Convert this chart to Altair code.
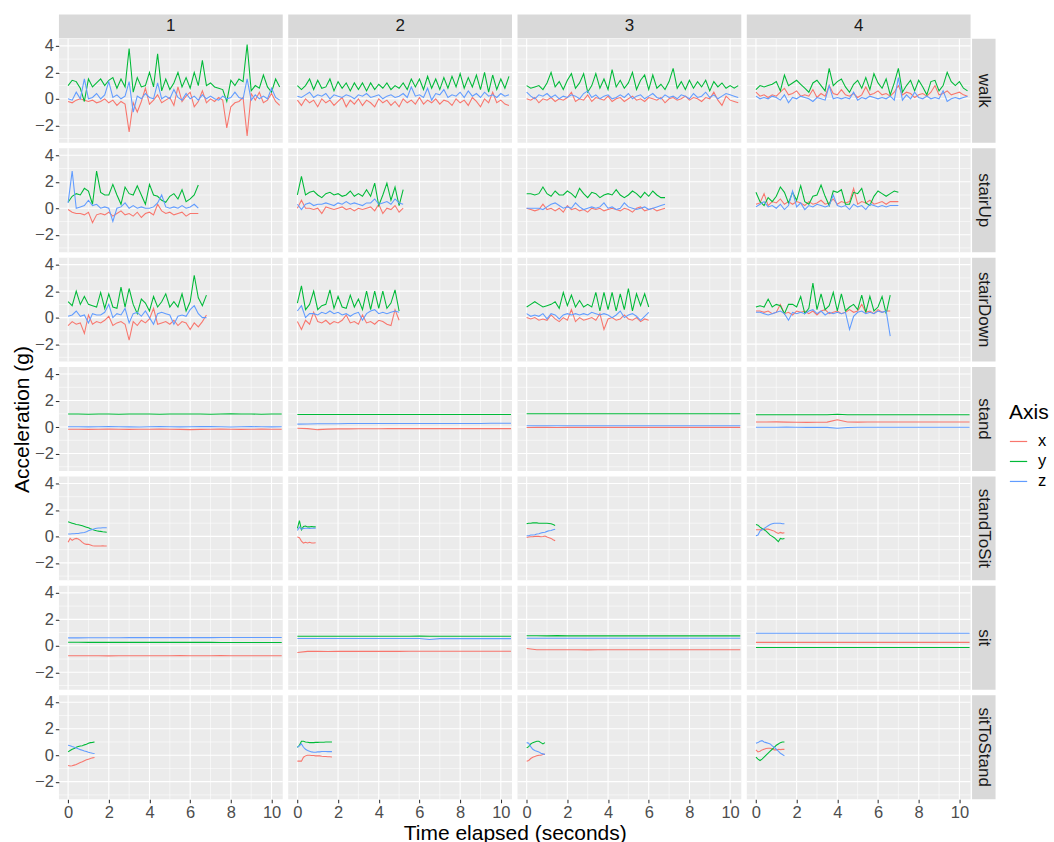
import altair as alt
import pandas as pd

FONT = "Liberation Sans"
AXES = ["x", "y", "z"]
COLORS = ["#F8766D", "#00BA38", "#619CFF"]
ACTIVITIES = ["walk", "stairUp", "stairDown", "stand", "standToSit", "sit", "sitToStand"]
SUBJECTS = ["1", "2", "3", "4"]
STEP = {"walk": 0.2, "stairUp": 0.2, "stairDown": 0.2, "stand": 0.5,
        "standToSit": 0.1, "sit": 0.5, "sitToStand": 0.1}

X_MAJOR = [0, 2, 4, 6, 8, 10]
X_MINOR = [1, 3, 5, 7, 9]
Y_MAJOR = [-2, 0, 2, 4]
Y_MINOR = [-3, -1, 1, 3]

# ---------------- walk ----------------
walk_1_x = [-0.2, -0.3, -0.1, 0.0, -0.1, -0.2, -0.1, -0.3, -0.2, 0.0, -0.3, -0.1, -0.5, -0.2, -0.4, -2.5, -0.3, -1.0, -0.2, 0.8,
            -0.4, -0.1, 0.3, -0.3, -0.1, 0.1, -0.5, 0.9, -0.2, 0.2, 0.5, -0.6, -0.2, 0.6, -0.3, 0.0, -0.2, 0.1, -0.1, -2.2,
            -0.6, -0.3, -0.2, 0.1, -2.8, 0.4, -0.1, 0.5, -0.3, -0.1, 0.4, -0.2, -0.5]
walk_1_y = [1.0, 1.4, 1.3, 0.8, -0.2, 1.5, 0.9, 1.2, 1.5, 1.0, 1.4, 1.6, 0.8, 1.5, 0.9, 3.8, 0.5, 1.6, 0.9, 1.0,
            2.0, 0.9, 3.4, 0.6, 1.5, 0.7, 1.2, 2.0, 0.9, 1.6, 0.8, 2.0, 1.0, 2.9, 1.0, 1.2, 0.9, 0.8, 0.7, -0.2,
            1.4, 1.0, 1.5, 1.3, 4.1, 0.6, 1.0, 0.8, 1.8, 0.9, 0.5, 1.5, 0.9]
walk_1_z = [0.0, -0.1, 0.5, 0.0, 1.5, 0.0, 0.1, 0.4, 0.0, 0.3, 1.3, 0.1, 0.3, 0.0, 0.2, 1.3, -1.0, 0.2, 0.0, 0.4,
            0.1, 0.0, 1.2, 0.0, 0.2, 0.0, 0.7, 0.1, -0.1, 0.4, 0.0, 0.2, -0.1, 0.3, 0.0, 0.2, 0.0, -0.1, 0.2, 0.0,
            0.1, 0.5, 0.1, 0.0, 1.5, -0.1, 0.3, 0.0, 0.2, 0.0, 0.8, 0.1, -0.1]
walk_2_x = [-0.1, -0.5, 0.0, -0.3, -0.1, -0.6, 0.0, -0.3, -0.1, -0.5, -0.2, 0.1, -0.6, -0.1, -0.4, 0.0, -0.5, -0.1, -0.3, -0.6,
            0.0, -0.3, -0.1, -0.5, -0.2, -0.6, 0.0, -0.3, -0.1, -0.4, 0.1, -0.4, -0.1, -0.3, 0.0, -0.4, -0.1, -0.2, -0.5, 0.0,
            -0.3, -0.1, -0.5, 0.1, -0.2, -0.6, 0.0, -0.3, 0.5, -0.3, -0.1, -0.4, -0.5]
walk_2_y = [1.0, 0.7, 1.0, 1.5, 0.7, 1.4, 0.8, 0.9, 1.5, 0.6, 1.3, 0.8, 1.2, 0.6, 1.2, 0.7, 1.2, 0.6, 1.2, 0.7,
            1.1, 0.8, 1.2, 0.7, 1.0, 0.8, 1.2, 0.7, 1.5, 0.9, 1.5, 0.7, 1.7, 0.8, 1.5, 0.7, 1.6, 0.8, 1.7, 0.9,
            1.9, 0.8, 1.6, 0.9, 1.8, 0.7, 2.0, 0.5, 1.8, 0.7, 1.5, 0.8, 1.7]
walk_2_z = [0.2, 0.1, 0.3, 0.5, 0.1, 0.3, 0.2, 0.4, 0.0, 0.3, 0.2, 0.1, 0.3, 0.2, 0.0, 0.3, 0.2, 0.4, 0.1, 0.2,
            0.3, 0.0, 0.2, 0.3, 0.1, 0.2, 0.4, 0.1, 0.9, 0.2, 0.3, 0.1, 0.8, -0.1, 0.4, 0.3, 0.7, 0.1, 0.3, 0.2,
            0.5, 0.1, 0.6, 0.2, 0.4, 0.1, 0.5, 0.2, 0.3, 0.1, 0.4, 0.2, 0.3]
walk_3_x = [0.0, -0.1, 0.1, -0.3, 0.0, -0.1, 0.1, -0.2, 0.0, -0.1, 0.1, 0.5, -0.2, 0.0, -0.1, 0.3, -0.2, 0.1, 0.0, -0.1,
            0.2, -0.2, 0.0, 0.1, -0.2, 0.0, 0.2, -0.1, 0.0, -0.2, 0.1, 0.0, -0.1, 0.1, -0.3, 0.0, 0.1, -0.1, 0.0, 0.2,
            -0.1, 0.1, 0.0, -0.2, 0.1, 0.0, 0.5, -0.1, -0.5, 0.2, -0.1, -0.2, -0.3]
walk_3_y = [1.0, 0.8, 0.9, 1.0, 0.7, 1.2, 2.0, 0.9, 1.3, 0.7, 1.4, 1.9, 0.8, 1.2, 1.9, 0.5, 1.0, 1.9, 0.8, 1.5,
            0.7, 2.2, 0.9, 1.4, 0.8, 1.2, 2.0, 0.7, 1.4, 1.8, 0.7, 1.8, 0.8, 1.1, 0.7, 1.3, 2.3, 0.8, 1.3, 0.7,
            1.4, 0.8, 1.3, 0.9, 1.4, 0.6, 1.3, 0.9, 1.2, 0.8, 1.0, 0.8, 1.0]
walk_3_z = [0.5, 0.2, 0.0, 0.3, 0.2, 0.4, 0.1, 0.3, 0.0, 0.2, 0.1, 0.3, 0.2, 0.0, 0.4, 0.6, 0.1, 0.3, 0.0, 0.2,
            0.3, 0.0, 0.1, 0.3, 0.1, 0.4, 0.0, 0.2, 0.3, 0.0, 0.2, 0.4, 0.1, 0.0, 0.3, 0.1, 0.2, 0.0, 0.3, 0.2,
            0.0, 0.4, 0.1, 0.2, 0.5, 0.1, 0.3, 0.0, 0.2, 0.4, 0.3, 0.2, 0.1]
walk_4_x = [0.5, 0.2, 0.3, 0.1, 0.3, 0.2, 0.5, 0.8, 0.3, 0.4, 0.6, 0.2, 0.3, 0.2, 0.7, 0.1, 0.4, 0.2, 1.0, 0.4,
            0.3, 0.7, 0.3, 0.2, 0.4, 0.1, 0.3, 0.9, 0.3, 0.4, 0.6, 0.3, 0.4, 0.2, 0.5, 1.0, 0.3, 0.5, 0.4, 0.1,
            0.3, 0.4, 0.2, 0.5, 1.0, 0.3, 0.4, 0.6, 0.3, 0.4, 0.5, 0.3, 0.2]
walk_4_y = [0.7, 1.0, 0.9, 1.0, 1.1, 1.3, 0.6, 1.8, 1.0, 1.2, 1.4, 1.1, 0.8, 0.5, 1.2, 1.4, 1.0, 0.6, 2.3, 1.0,
            1.3, 1.5, 0.9, 0.5, 1.1, 1.4, 0.8, 1.6, 0.7, 1.9, 1.2, 0.8, 1.5, 0.3, 1.2, 2.3, 0.5, 1.0, 1.4, 0.6,
            1.4, 0.9, 0.3, 1.3, 1.4, 0.6, 1.0, 2.0, 1.3, 1.0, 1.3, 0.8, 0.6]
walk_4_z = [0.2, 0.0, 0.1, 0.0, 0.2, 0.1, -0.1, 0.3, -0.3, 0.1, 0.0, 0.2, 0.1, 0.0, -0.2, 0.1, 0.0, -0.1, 1.0, 0.0,
            0.1, 0.0, 0.1, 0.0, 0.5, -0.1, 0.1, 0.0, 0.2, 0.1, 0.0, 0.1, 0.0, 0.2, -0.1, 1.6, -0.1, 0.3, 0.0, 0.5,
            0.1, 0.0, 0.2, 0.0, 0.1, 0.0, 0.6, -0.2, 0.0, 0.1, 0.0, 0.1, 0.2]

# ---------------- stairUp ----------------
up_1_x = [-0.1, -0.3, -0.4, -0.4, -0.5, -0.3, -1.1, -0.5, -0.4, -0.5, -0.3, -0.6, -0.4, -0.2, -0.5, -0.4, -0.6,
          -0.3, -0.7, -0.4, -0.3, -0.5, 0.3, -0.2, -0.4, -0.3, -0.5, -0.4, -0.3, -0.6, -0.4, -0.4, -0.4]
up_1_y = [0.45, 0.9, 1.1, 1.0, 1.5, 1.3, 0.3, 2.8, 1.2, 1.0, 1.0, 1.8, 1.0, 0.3, 1.6, 1.1, 1.0, 1.7, 1.0, 0.3,
          1.8, 1.0, 0.9, 0.6, 0.45, 0.9, 1.1, 0.7, 1.4, 0.5, 0.7, 1.0, 1.75]
up_1_z = [0.4, 2.8, 0.0, 0.1, 0.2, 0.6, 0.2, 0.3, 0.0, 0.1, 0.0, -1.0, 0.0, 0.1, 0.4, 0.0, 0.2, 0.0, 0.1, 0.0,
          0.0, 0.1, 0.4, 1.0, 0.1, 0.0, 0.1, 0.0, 0.2, 0.0, 0.1, 0.3, 0.0]
up_2_x = [0.0, 0.6, 0.0, 0.0, -0.1, 0.0, -0.4, 0.1, 0.0, -0.1, 0.0, 0.1, -0.1, 0.0, -0.2, 0.0, -0.1, 0.0, 0.1, -0.2,
          0.3, -0.4, 0.0, -0.1, 0.2, -0.3, 0.0]
up_2_y = [1.0, 2.4, 1.0, 1.2, 1.3, 1.0, 0.8, 1.1, 1.2, 1.0, 1.1, 0.9, 1.0, 1.3, 0.9, 1.1, 0.9, 1.4, 0.9, 1.9,
          0.2, 1.0, 1.9, 0.6, 1.6, 0.2, 1.4]
up_2_z = [0.3, -0.1, 0.3, 0.4, 0.2, 0.3, 0.3, 0.4, 0.3, 0.2, 0.4, 0.3, 0.5, 0.3, 0.4, 0.3, 0.2, 0.4, 0.4, 0.7,
          0.3, 0.4, 0.5, 0.3, 0.7, 0.4, 0.3]
up_3_x = [0.0, -0.1, -0.2, -0.1, 0.3, -0.1, 0.0, -0.2, 0.0, -0.3, 0.2, -0.1, 0.0, -0.2, -0.1, -0.3, 0.0, -0.1, 0.0,
          -0.2, -0.1, 0.0, -0.1, -0.2, 0.0, -0.1, -0.3, 0.0, 0.1, -0.2, -0.1, 0.0, -0.2, -0.1, 0.0]
up_3_y = [1.1, 1.1, 1.0, 1.1, 1.6, 1.1, 0.9, 1.3, 1.0, 1.0, 1.3, 1.1, 0.8, 1.5, 1.1, 0.8, 1.2, 1.1, 0.8, 1.0,
          1.1, 1.0, 1.4, 1.0, 0.8, 1.0, 1.3, 1.1, 0.8, 1.2, 0.9, 1.3, 1.0, 0.8, 0.8]
up_3_z = [0.0, 0.0, 0.0, 0.0, -0.1, 0.1, 0.3, 0.4, 0.2, 0.0, 0.1, 0.0, 0.4, 0.1, -0.1, 0.0, 0.1, 0.0, 0.1, 0.4,
          0.0, 0.1, -0.1, 0.0, 0.4, 0.1, 0.0, -0.1, 0.0, 0.1, -0.1, 0.0, 0.1, 0.2, 0.3]
up_4_x = [0.3, 0.4, 1.1, 0.2, 0.5, 0.4, 0.7, 0.3, 0.5, 0.3, 0.5, 0.4, 0.2, 0.5, 0.3, 0.4, 0.6, 0.3, 0.4, 0.7,
          0.3, 0.5, 0.4, 0.5, 1.5, 0.3, 0.5, 0.4, 0.6, 0.3, 0.4, 0.5, 0.3, 0.5, 0.5, 0.5]
up_4_y = [1.2, 0.5, 0.2, 0.8, 0.5, 0.9, 1.6, 1.2, 0.4, 1.2, 0.6, 1.7, 0.5, 0.3, 0.9, 1.0, 1.75, 0.9, 0.2, 1.3,
          1.2, 1.4, 0.3, 0.3, 1.2, 1.1, 1.5, 0.4, 0.2, 0.9, 1.3, 1.1, 0.9, 1.1, 1.3, 1.2]
up_4_z = [0.1, 0.3, 0.5, 0.1, 0.2, 0.0, 0.3, -0.1, 0.2, 1.3, 0.1, 0.4, -0.1, 0.2, 0.1, 0.3, 0.2, 0.1, 0.2, 1.0,
          0.2, 0.1, 0.2, -0.1, 0.3, 0.1, 0.2, -0.1, 0.3, 0.2, 0.1, 0.2, 0.1, 0.2, 0.2, 0.2]

# ---------------- stairDown ----------------
down_1_x = [-0.6, -0.3, -0.5, -0.4, -1.2, 0.2, -0.5, -0.3, -0.4, -0.2, 0.1, -0.6, -0.4, -0.3, -0.5, -1.7, -0.3, -0.6,
            -0.2, -0.4, -0.1, 0.7, -0.5, -0.4, -0.3, -0.5, -0.2, -0.6, -0.3, -0.4, -0.9, -0.4, -0.7, -0.3, 0.2]
down_1_y = [1.2, 0.9, 2.0, 1.0, 1.6, 1.0, 0.9, 0.8, 1.9, 0.7, 1.8, 0.8, 0.7, 2.3, 0.8, 2.2, 1.0, 0.3, 1.4, 1.1,
            0.5, 1.6, 0.8, 1.2, 1.8, 0.8, 1.2, 0.8, 1.8, 0.5, 1.2, 3.2, 1.5, 0.9, 1.7]
down_1_z = [0.1, 0.2, 0.5, 0.1, 0.2, -0.4, 0.3, 0.2, 0.2, 0.4, 1.0, 0.0, 0.3, 0.2, 0.7, -0.4, 0.3, 0.4, 0.1, 0.5,
            0.0, -0.5, 0.3, 0.4, 0.3, 0.2, -0.5, 0.1, 0.2, 0.1, 0.6, 0.9, 0.3, 0.0, 0.0]
down_2_x = [-0.3, -0.9, -0.2, -0.5, 0.4, -0.3, -0.4, -0.2, -0.5, -0.3, -0.4, -0.2, 0.2, -0.4, -0.3, -0.5, 0.2, -0.4,
            -0.3, -0.5, -0.2, -0.3, -0.5, -0.6, 0.6, -0.2]
down_2_y = [1.1, 2.4, 0.6, 1.0, 2.0, 0.6, 0.9, 1.0, 2.1, 0.7, 1.6, 0.8, 0.7, 1.7, 0.8, 1.4, 0.6, 2.0, 0.6, 2.0,
            0.7, 2.0, 0.7, 1.1, 2.1, 0.5]
down_2_z = [0.5, 0.9, 0.0, 0.3, 0.3, 0.2, 0.4, 0.3, 0.5, 0.3, 0.4, 0.2, 0.3, 0.1, 0.3, 0.4, -0.2, 0.3, 0.5, 0.6,
            0.3, 0.4, 0.3, 0.4, 0.5, 0.4]
down_3_x = [0.0, -0.1, 0.0, -0.2, -0.1, -0.2, 0.2, -0.1, -0.3, 0.0, -0.2, 0.6, -0.3, 0.0, -0.2, -0.1, 0.0, -0.2, 0.3,
            -0.9, -0.1, 0.0, -0.2, -0.1, 0.2, -0.1, -0.2, 0.0, -0.3, -0.1, -0.2]
down_3_y = [0.8, 1.0, 1.2, 1.0, 0.8, 0.9, 1.0, 1.2, 0.7, 1.9, 0.9, 1.7, 0.8, 1.3, 0.8, 1.0, 0.8, 1.9, 0.5, 1.9,
            0.6, 1.9, 0.5, 1.8, 0.6, 2.2, 0.5, 1.8, 0.9, 1.8, 0.8]
down_3_z = [0.3, 0.1, 0.2, 0.1, 0.3, -0.1, 0.3, 0.2, -0.1, 0.2, 0.3, 0.2, 0.3, 0.2, 0.3, 0.2, 0.4, 0.3, 0.2, 0.3,
            0.2, 0.0, 0.2, 0.5, 0.0, 0.2, 0.3, 0.1, -0.2, 0.1, 0.4]
down_4_x = [0.5, 0.5, 0.4, 0.5, 0.3, 0.4, 1.0, 0.3, 0.4, 0.2, 0.5, 0.4, 0.5, 0.3, 0.5, 0.2, 0.5, 0.6, 0.3, 0.4,
            0.5, 0.3, 0.4, 0.6, 0.4, 0.5, 1.0, 0.4, 0.5, 0.3, 0.6, 0.4, 0.5, 0.5]
down_4_y = [0.8, 0.9, 0.8, 1.4, 0.8, 1.0, 0.9, 0.3, 1.0, 1.0, 0.8, 1.6, 0.3, 0.7, 2.6, 0.6, 1.8, 0.6, 0.9, 1.9,
            0.5, 1.8, 0.5, 0.8, 1.0, 0.6, 1.7, 0.4, 1.6, 0.5, 0.8, 1.6, 0.3, 1.7]
down_4_z = [0.4, 0.4, 0.3, 0.2, 0.3, 0.4, 0.5, 0.3, -0.2, 0.4, 0.3, 0.4, 0.3, 0.5, 0.6, 0.3, 0.5, 0.2, 0.4, 0.3,
            0.4, 0.3, 0.4, -0.9, 0.1, 0.4, 0.5, 0.3, 0.4, 0.3, 0.5, 0.4, 0.5, -1.4]

# ---------------- stand ----------------
stand_1_x = [-0.17, -0.17, -0.18, -0.17, -0.16, -0.17, -0.18, -0.17, -0.17, -0.16, -0.17, -0.18, -0.2, -0.18, -0.17,
             -0.16, -0.17, -0.18, -0.17, -0.16, -0.17, -0.17]
stand_1_y = [0.98, 0.98, 0.97, 0.98, 0.98, 0.97, 0.98, 0.98, 0.98, 0.97, 0.98, 0.98, 0.98, 0.98, 0.97, 0.98, 0.99,
             0.98, 0.98, 0.97, 0.98, 0.98]
stand_1_z = [0.02, 0.02, 0.01, 0.02, 0.03, 0.02, 0.01, 0.0, 0.02, 0.03, 0.02, 0.01, 0.02, 0.03, 0.04, 0.02, 0.0,
             0.02, 0.03, 0.02, 0.01, 0.02]
stand_2_x = [-0.1, -0.12, -0.2, -0.16, -0.14, -0.14, -0.13, -0.13, -0.13, -0.12, -0.12, -0.12, -0.12, -0.12, -0.12,
             -0.12, -0.12, -0.12, -0.12, -0.12, -0.12, -0.12]
stand_2_y = [0.95, 0.95, 0.95, 0.94, 0.95, 0.95, 0.95, 0.95, 0.95, 0.95, 0.95, 0.95, 0.95, 0.95, 0.95, 0.95, 0.95,
             0.95, 0.95, 0.95, 0.95, 0.95]
stand_2_z = [0.22, 0.23, 0.24, 0.25, 0.25, 0.26, 0.26, 0.26, 0.27, 0.27, 0.27, 0.27, 0.27, 0.27, 0.27, 0.27, 0.27,
             0.27, 0.27, 0.28, 0.28, 0.28]
stand_3_x = [-0.04, -0.03, -0.03, -0.04, -0.03, -0.03, -0.03, -0.02, -0.03, -0.03, -0.03, -0.03, -0.02, -0.03,
             -0.03, -0.03, -0.03, -0.02, -0.03, -0.03, -0.03, -0.03]
stand_3_y = [1.0, 1.0, 1.0, 1.0, 1.0, 1.0, 1.0, 1.0, 1.0, 1.0, 1.0, 1.0, 1.0, 1.0, 1.0, 1.0, 1.0, 1.0, 1.0, 1.0,
             1.0, 1.0]
stand_3_z = [0.1, 0.1, 0.1, 0.1, 0.1, 0.1, 0.1, 0.1, 0.1, 0.1, 0.1, 0.1, 0.1, 0.1, 0.1, 0.1, 0.1, 0.1, 0.1, 0.1,
             0.1, 0.1]
stand_4_x = [0.38, 0.38, 0.39, 0.37, 0.36, 0.35, 0.36, 0.37, 0.55, 0.38, 0.37, 0.38, 0.38, 0.38, 0.38, 0.38, 0.38,
             0.38, 0.38, 0.38, 0.38, 0.38]
stand_4_y = [0.92, 0.92, 0.92, 0.92, 0.92, 0.92, 0.92, 0.92, 0.96, 0.92, 0.92, 0.92, 0.92, 0.92, 0.92, 0.92, 0.92,
             0.92, 0.92, 0.92, 0.92, 0.92]
stand_4_z = [-0.02, -0.02, -0.02, -0.01, -0.02, -0.03, -0.02, -0.03, -0.1, -0.04, -0.02, -0.02, -0.02, -0.02,
             -0.02, -0.02, -0.02, -0.02, -0.02, -0.02, -0.02, -0.02]

# ---------------- sit ----------------
sit_1_x = [-0.75, -0.75, -0.75, -0.75, -0.76, -0.75, -0.75, -0.75, -0.75, -0.75, -0.75, -0.74, -0.75, -0.75, -0.75,
           -0.74, -0.75, -0.75, -0.75, -0.75, -0.75, -0.75]
sit_1_y = [0.27, 0.27, 0.26, 0.26, 0.26, 0.26, 0.26, 0.26, 0.26, 0.26, 0.26, 0.26, 0.26, 0.26, 0.26, 0.25, 0.25,
           0.25, 0.25, 0.25, 0.25, 0.25]
sit_1_z = [0.6, 0.6, 0.61, 0.61, 0.61, 0.61, 0.62, 0.62, 0.62, 0.62, 0.62, 0.62, 0.62, 0.62, 0.62, 0.63, 0.63,
           0.63, 0.63, 0.63, 0.63, 0.63]
sit_2_x = [-0.5, -0.42, -0.42, -0.43, -0.42, -0.42, -0.42, -0.41, -0.42, -0.41, -0.42, -0.41, -0.41, -0.41, -0.41,
           -0.41, -0.41, -0.41, -0.41, -0.41, -0.41, -0.41]
sit_2_y = [0.72, 0.72, 0.72, 0.72, 0.72, 0.72, 0.72, 0.72, 0.72, 0.72, 0.72, 0.72, 0.73, 0.72, 0.72, 0.72, 0.72,
           0.72, 0.72, 0.72, 0.72, 0.72]
sit_2_z = [0.55, 0.55, 0.55, 0.55, 0.55, 0.55, 0.55, 0.55, 0.55, 0.55, 0.55, 0.55, 0.55, 0.48, 0.54, 0.54, 0.54,
           0.54, 0.54, 0.54, 0.54, 0.54]
sit_3_x = [-0.2, -0.3, -0.3, -0.3, -0.3, -0.3, -0.31, -0.3, -0.3, -0.3, -0.3, -0.3, -0.3, -0.3, -0.3, -0.3, -0.3,
           -0.3, -0.3, -0.3, -0.3, -0.3]
sit_3_y = [0.76, 0.76, 0.75, 0.77, 0.75, 0.76, 0.75, 0.75, 0.75, 0.75, 0.75, 0.75, 0.75, 0.75, 0.75, 0.75, 0.75,
           0.75, 0.75, 0.75, 0.75, 0.75]
sit_3_z = [0.57, 0.57, 0.57, 0.57, 0.57, 0.57, 0.57, 0.57, 0.57, 0.57, 0.57, 0.57, 0.57, 0.57, 0.57, 0.57, 0.57,
           0.57, 0.57, 0.57, 0.57, 0.57]
sit_4_x = [0.26, 0.26, 0.26, 0.26, 0.26, 0.26, 0.26, 0.26, 0.26, 0.26, 0.26, 0.26, 0.26, 0.26, 0.26, 0.26, 0.26,
           0.26, 0.26, 0.26, 0.26, 0.26]
sit_4_y = [-0.13, -0.13, -0.13, -0.13, -0.13, -0.13, -0.13, -0.13, -0.13, -0.13, -0.13, -0.13, -0.13, -0.13, -0.13,
           -0.13, -0.13, -0.13, -0.13, -0.13, -0.13, -0.13]
sit_4_z = [0.95, 0.95, 0.95, 0.95, 0.95, 0.95, 0.95, 0.95, 0.95, 0.95, 0.95, 0.95, 0.95, 0.95, 0.95, 0.95, 0.95,
           0.95, 0.95, 0.95, 0.95, 0.95]

# ---------------- standToSit ----------------
s2s_1_x = [-0.45, -0.15, -0.3, -0.2, -0.15, -0.2, -0.3, -0.45, -0.55, -0.6, -0.6, -0.65, -0.7, -0.72, -0.72, -0.72,
           -0.72, -0.7, -0.72, -0.72]
s2s_1_y = [1.1, 1.05, 1.0, 0.95, 0.9, 0.88, 0.85, 0.8, 0.75, 0.7, 0.65, 0.58, 0.52, 0.47, 0.43, 0.4, 0.38, 0.35,
           0.33, 0.31]
s2s_1_z = [0.18, 0.18, 0.2, 0.2, 0.22, 0.22, 0.25, 0.28, 0.3, 0.35, 0.42, 0.48, 0.53, 0.58, 0.62, 0.63, 0.64, 0.65,
           0.65, 0.65]
s2s_2_x = [-0.05, -0.1, -0.35, -0.5, -0.45, -0.5, -0.45, -0.5, -0.5, -0.48]
s2s_2_y = [0.6, 1.2, 0.5, 0.75, 0.78, 0.72, 0.72, 0.75, 0.72, 0.72]
s2s_2_z = [0.45, 0.7, 0.55, 0.6, 0.62, 0.62, 0.6, 0.62, 0.62, 0.62]
s2s_3_x = [-0.08, -0.05, -0.02, -0.03, 0.0, 0.0, 0.0, -0.02, 0.0, 0.03, -0.05, -0.1, -0.15, -0.25, -0.33]
s2s_3_y = [0.95, 1.0, 1.0, 1.02, 1.02, 1.02, 1.0, 1.0, 1.0, 1.0, 1.0, 0.98, 0.95, 0.9, 0.83]
s2s_3_z = [0.05, 0.05, 0.1, 0.1, 0.12, 0.18, 0.2, 0.25, 0.3, 0.32, 0.38, 0.42, 0.45, 0.5, 0.54]
s2s_4_x = [0.5, 0.5, 0.5, 0.5, 0.52, 0.55, 0.55, 0.5, 0.45, 0.4, 0.3, 0.22, 0.3, 0.25, 0.28]
s2s_4_y = [0.9, 0.85, 0.7, 0.6, 0.5, 0.4, 0.25, 0.1, 0.0, -0.1, -0.25, -0.4, -0.15, -0.2, -0.15]
s2s_4_z = [0.05, 0.1, 0.4, 0.5, 0.6, 0.7, 0.8, 0.9, 0.95, 1.0, 1.0, 1.0, 1.0, 0.95, 0.95]

# ---------------- sitToStand ----------------
t2s_1_x = [-0.78, -0.82, -0.8, -0.75, -0.7, -0.62, -0.55, -0.5, -0.42, -0.35, -0.3, -0.25, -0.2, -0.18]
t2s_1_y = [0.25, 0.35, 0.45, 0.5, 0.6, 0.65, 0.7, 0.72, 0.78, 0.82, 0.9, 0.95, 0.97, 1.0]
t2s_1_z = [0.75, 0.72, 0.65, 0.6, 0.55, 0.48, 0.42, 0.38, 0.32, 0.28, 0.22, 0.18, 0.15, 0.13]
t2s_2_x = [-0.45, -0.45, -0.45, -0.15, -0.05, 0.0, 0.0, -0.02, -0.02, -0.05, -0.05, -0.05, -0.08, -0.1, -0.1, -0.12,
           -0.12, -0.13]
t2s_2_y = [0.6, 0.75, 1.05, 1.05, 1.0, 0.98, 0.95, 0.95, 0.95, 0.97, 0.97, 0.98, 0.98, 0.98, 1.0, 1.0, 1.0, 1.0]
t2s_2_z = [0.6, 0.7, 0.85, 0.6, 0.45, 0.35, 0.3, 0.25, 0.22, 0.22, 0.25, 0.25, 0.28, 0.28, 0.28, 0.27, 0.27, 0.27]
t2s_3_x = [-0.45, -0.4, -0.25, -0.15, -0.1, -0.05, 0.0, 0.0, 0.05, 0.08]
t2s_3_y = [0.55, 0.65, 0.85, 0.95, 1.0, 1.05, 1.05, 0.95, 0.85, 0.95]
t2s_3_z = [0.95, 0.9, 0.65, 0.45, 0.35, 0.3, 0.25, 0.15, 0.1, 0.05]
t2s_4_x = [0.4, 0.25, 0.3, 0.4, 0.45, 0.5, 0.52, 0.52, 0.48, 0.4, 0.4, 0.45, 0.42, 0.44, 0.44]
t2s_4_y = [-0.15, -0.3, -0.4, -0.3, -0.15, 0.0, 0.15, 0.3, 0.45, 0.6, 0.75, 0.85, 0.95, 1.0, 1.0]
t2s_4_z = [0.9, 0.95, 1.05, 1.1, 1.0, 0.95, 0.9, 0.85, 0.7, 0.6, 0.45, 0.3, 0.15, 0.05, -0.05]

SERIES = {
    "walk": {"1": (walk_1_x, walk_1_y, walk_1_z), "2": (walk_2_x, walk_2_y, walk_2_z),
             "3": (walk_3_x, walk_3_y, walk_3_z), "4": (walk_4_x, walk_4_y, walk_4_z)},
    "stairUp": {"1": (up_1_x, up_1_y, up_1_z), "2": (up_2_x, up_2_y, up_2_z),
                "3": (up_3_x, up_3_y, up_3_z), "4": (up_4_x, up_4_y, up_4_z)},
    "stairDown": {"1": (down_1_x, down_1_y, down_1_z), "2": (down_2_x, down_2_y, down_2_z),
                  "3": (down_3_x, down_3_y, down_3_z), "4": (down_4_x, down_4_y, down_4_z)},
    "stand": {"1": (stand_1_x, stand_1_y, stand_1_z), "2": (stand_2_x, stand_2_y, stand_2_z),
              "3": (stand_3_x, stand_3_y, stand_3_z), "4": (stand_4_x, stand_4_y, stand_4_z)},
    "standToSit": {"1": (s2s_1_x, s2s_1_y, s2s_1_z), "2": (s2s_2_x, s2s_2_y, s2s_2_z),
                   "3": (s2s_3_x, s2s_3_y, s2s_3_z), "4": (s2s_4_x, s2s_4_y, s2s_4_z)},
    "sit": {"1": (sit_1_x, sit_1_y, sit_1_z), "2": (sit_2_x, sit_2_y, sit_2_z),
            "3": (sit_3_x, sit_3_y, sit_3_z), "4": (sit_4_x, sit_4_y, sit_4_z)},
    "sitToStand": {"1": (t2s_1_x, t2s_1_y, t2s_1_z), "2": (t2s_2_x, t2s_2_y, t2s_2_z),
                   "3": (t2s_3_x, t2s_3_y, t2s_3_z), "4": (t2s_4_x, t2s_4_y, t2s_4_z)},
}

records = []
for act in ACTIVITIES:
    for s in SUBJECTS:
        for ax, vals in zip(AXES, SERIES[act][s]):
            for i, v in enumerate(vals):
                records.append({"activity": act, "subject": s, "axis": ax,
                                "t": round(i * STEP[act], 3), "value": v})
df = pd.DataFrame(records)

gx_major = pd.DataFrame({"v": X_MAJOR})
gx_minor = pd.DataFrame({"v": X_MINOR})
gy_major = pd.DataFrame({"v": Y_MAJOR})
gy_minor = pd.DataFrame({"v": Y_MINOR})

PW, PH = 224, 104
GAP = 5.5
SW = 18.5  # strip cell size (rect extends across the gap)
TICK_FS = 16.5
TITLE_FS = 21
STRIP_FS = 17

XS = alt.Scale(domain=[-0.45, 10.55], nice=False, zero=False)
YS = alt.Scale(domain=[-3.32, 4.53], nice=False, zero=False)

LEG = alt.Legend(title="Axis", orient="none", legendX=951, legendY=388,
                 symbolType="stroke", symbolSize=300, symbolStrokeWidth=1.2,
                 titleFontSize=TITLE_FS, titleFont=FONT, titleFontWeight="normal", titleColor="#000000",
                 labelFontSize=TICK_FS, labelFont=FONT, labelColor="#000000",
                 titlePadding=9, rowPadding=2, labelOffset=10)

TICK = dict(domain=False, grid=False, tickColor="#333333", tickSize=3.6, tickWidth=1.07,
            labelColor="#4D4D4D", labelFontSize=TICK_FS, labelFont=FONT, labelPadding=2)


def x_axis(show, title=False):
    if not show:
        return None
    if title:
        return alt.Axis(values=X_MAJOR, title="Time elapsed (seconds)", titleFontSize=TITLE_FS, titleFont=FONT,
                        titleFontWeight="normal", titleColor="#000000", titlePadding=1,
                        titleX=(4 * PW + 3 * GAP) / 2 - (PW + GAP), titleAlign="center", **TICK)
    return alt.Axis(values=X_MAJOR, title=None, **TICK)


def y_axis(show, title=False):
    if not show:
        return None
    if title:
        return alt.Axis(values=Y_MAJOR, title="Acceleration (g)", titleFontSize=TITLE_FS, titleFont=FONT,
                        titleFontWeight="normal", titleColor="#000000", titlePadding=2, **TICK)
    return alt.Axis(values=Y_MAJOR, title=None, **TICK)


def panel(act, subj, show_x, show_y, xt, yt):
    ax = x_axis(show_x, xt)
    ay = y_axis(show_y, yt)
    vmin = alt.Chart(gx_minor).mark_rule(color="white", strokeWidth=0.55).encode(
        x=alt.X("v:Q", scale=XS, axis=ax))
    vmaj = alt.Chart(gx_major).mark_rule(color="white", strokeWidth=1.1).encode(
        x=alt.X("v:Q", scale=XS, axis=ax))
    hmin = alt.Chart(gy_minor).mark_rule(color="white", strokeWidth=0.55).encode(
        y=alt.Y("v:Q", scale=YS, axis=ay))
    hmaj = alt.Chart(gy_major).mark_rule(color="white", strokeWidth=1.1).encode(
        y=alt.Y("v:Q", scale=YS, axis=ay))
    lines = alt.Chart(df).transform_filter(
        (alt.datum.activity == act) & (alt.datum.subject == subj)
    ).mark_line(strokeWidth=1.07, clip=True).encode(
        x=alt.X("t:Q", scale=XS, axis=ax),
        y=alt.Y("value:Q", scale=YS, axis=ay),
        color=alt.Color("axis:N", scale=alt.Scale(domain=AXES, range=COLORS), legend=LEG),
    )
    return alt.layer(vmin, vmaj, hmin, hmaj, lines).properties(
        width=PW, height=PH, view=alt.ViewBackground(fill="#EBEBEB"))


def top_strip(label):
    d = pd.DataFrame({"label": [label]})
    rect = alt.Chart(d).mark_rect(color="#D9D9D9").encode(
        x=alt.value(0), x2=alt.value(PW), y=alt.value(0), y2=alt.value(SW + GAP))
    txt = alt.Chart(d).mark_text(font=FONT, fontSize=STRIP_FS, color="#1A1A1A", baseline="middle",
                                 align="center").encode(
        text="label:N", x=alt.value(PW / 2), y=alt.value((SW + GAP) / 2))
    return alt.layer(rect, txt).properties(width=PW, height=SW)


def right_strip(label):
    d = pd.DataFrame({"label": [label]})
    x0 = -GAP + 1.5
    rect = alt.Chart(d).mark_rect(color="#D9D9D9").encode(
        x=alt.value(x0), x2=alt.value(SW + 1), y=alt.value(0), y2=alt.value(PH))
    txt = alt.Chart(d).mark_text(font=FONT, fontSize=STRIP_FS, color="#1A1A1A", baseline="middle",
                                 align="center", angle=90).encode(
        text="label:N", x=alt.value((x0 + SW + 1) / 2), y=alt.value(PH / 2))
    return alt.layer(rect, txt).properties(width=SW, height=PH)


corner = alt.Chart(pd.DataFrame({"label": [""]})).mark_rect(opacity=0).encode(
    x=alt.value(0), x2=alt.value(SW), y=alt.value(0), y2=alt.value(SW)).properties(width=SW, height=SW)

cells = [top_strip(s) for s in SUBJECTS] + [corner]
for r, act in enumerate(ACTIVITIES):
    for c, s in enumerate(SUBJECTS):
        cells.append(panel(act, s,
                           show_x=(r == len(ACTIVITIES) - 1), show_y=(c == 0),
                           xt=(r == len(ACTIVITIES) - 1 and c == 1), yt=(c == 0 and r == 3)))
    cells.append(right_strip(act))

chart = alt.concat(*cells, columns=5, spacing=GAP, bounds="flush", align="each").properties(
    padding={"left": 11, "top": 14, "right": 5, "bottom": 2},
    background="white",
).configure_view(strokeWidth=0)

chart.save("out.html", embed_options={"renderer": "svg", "actions": False})
